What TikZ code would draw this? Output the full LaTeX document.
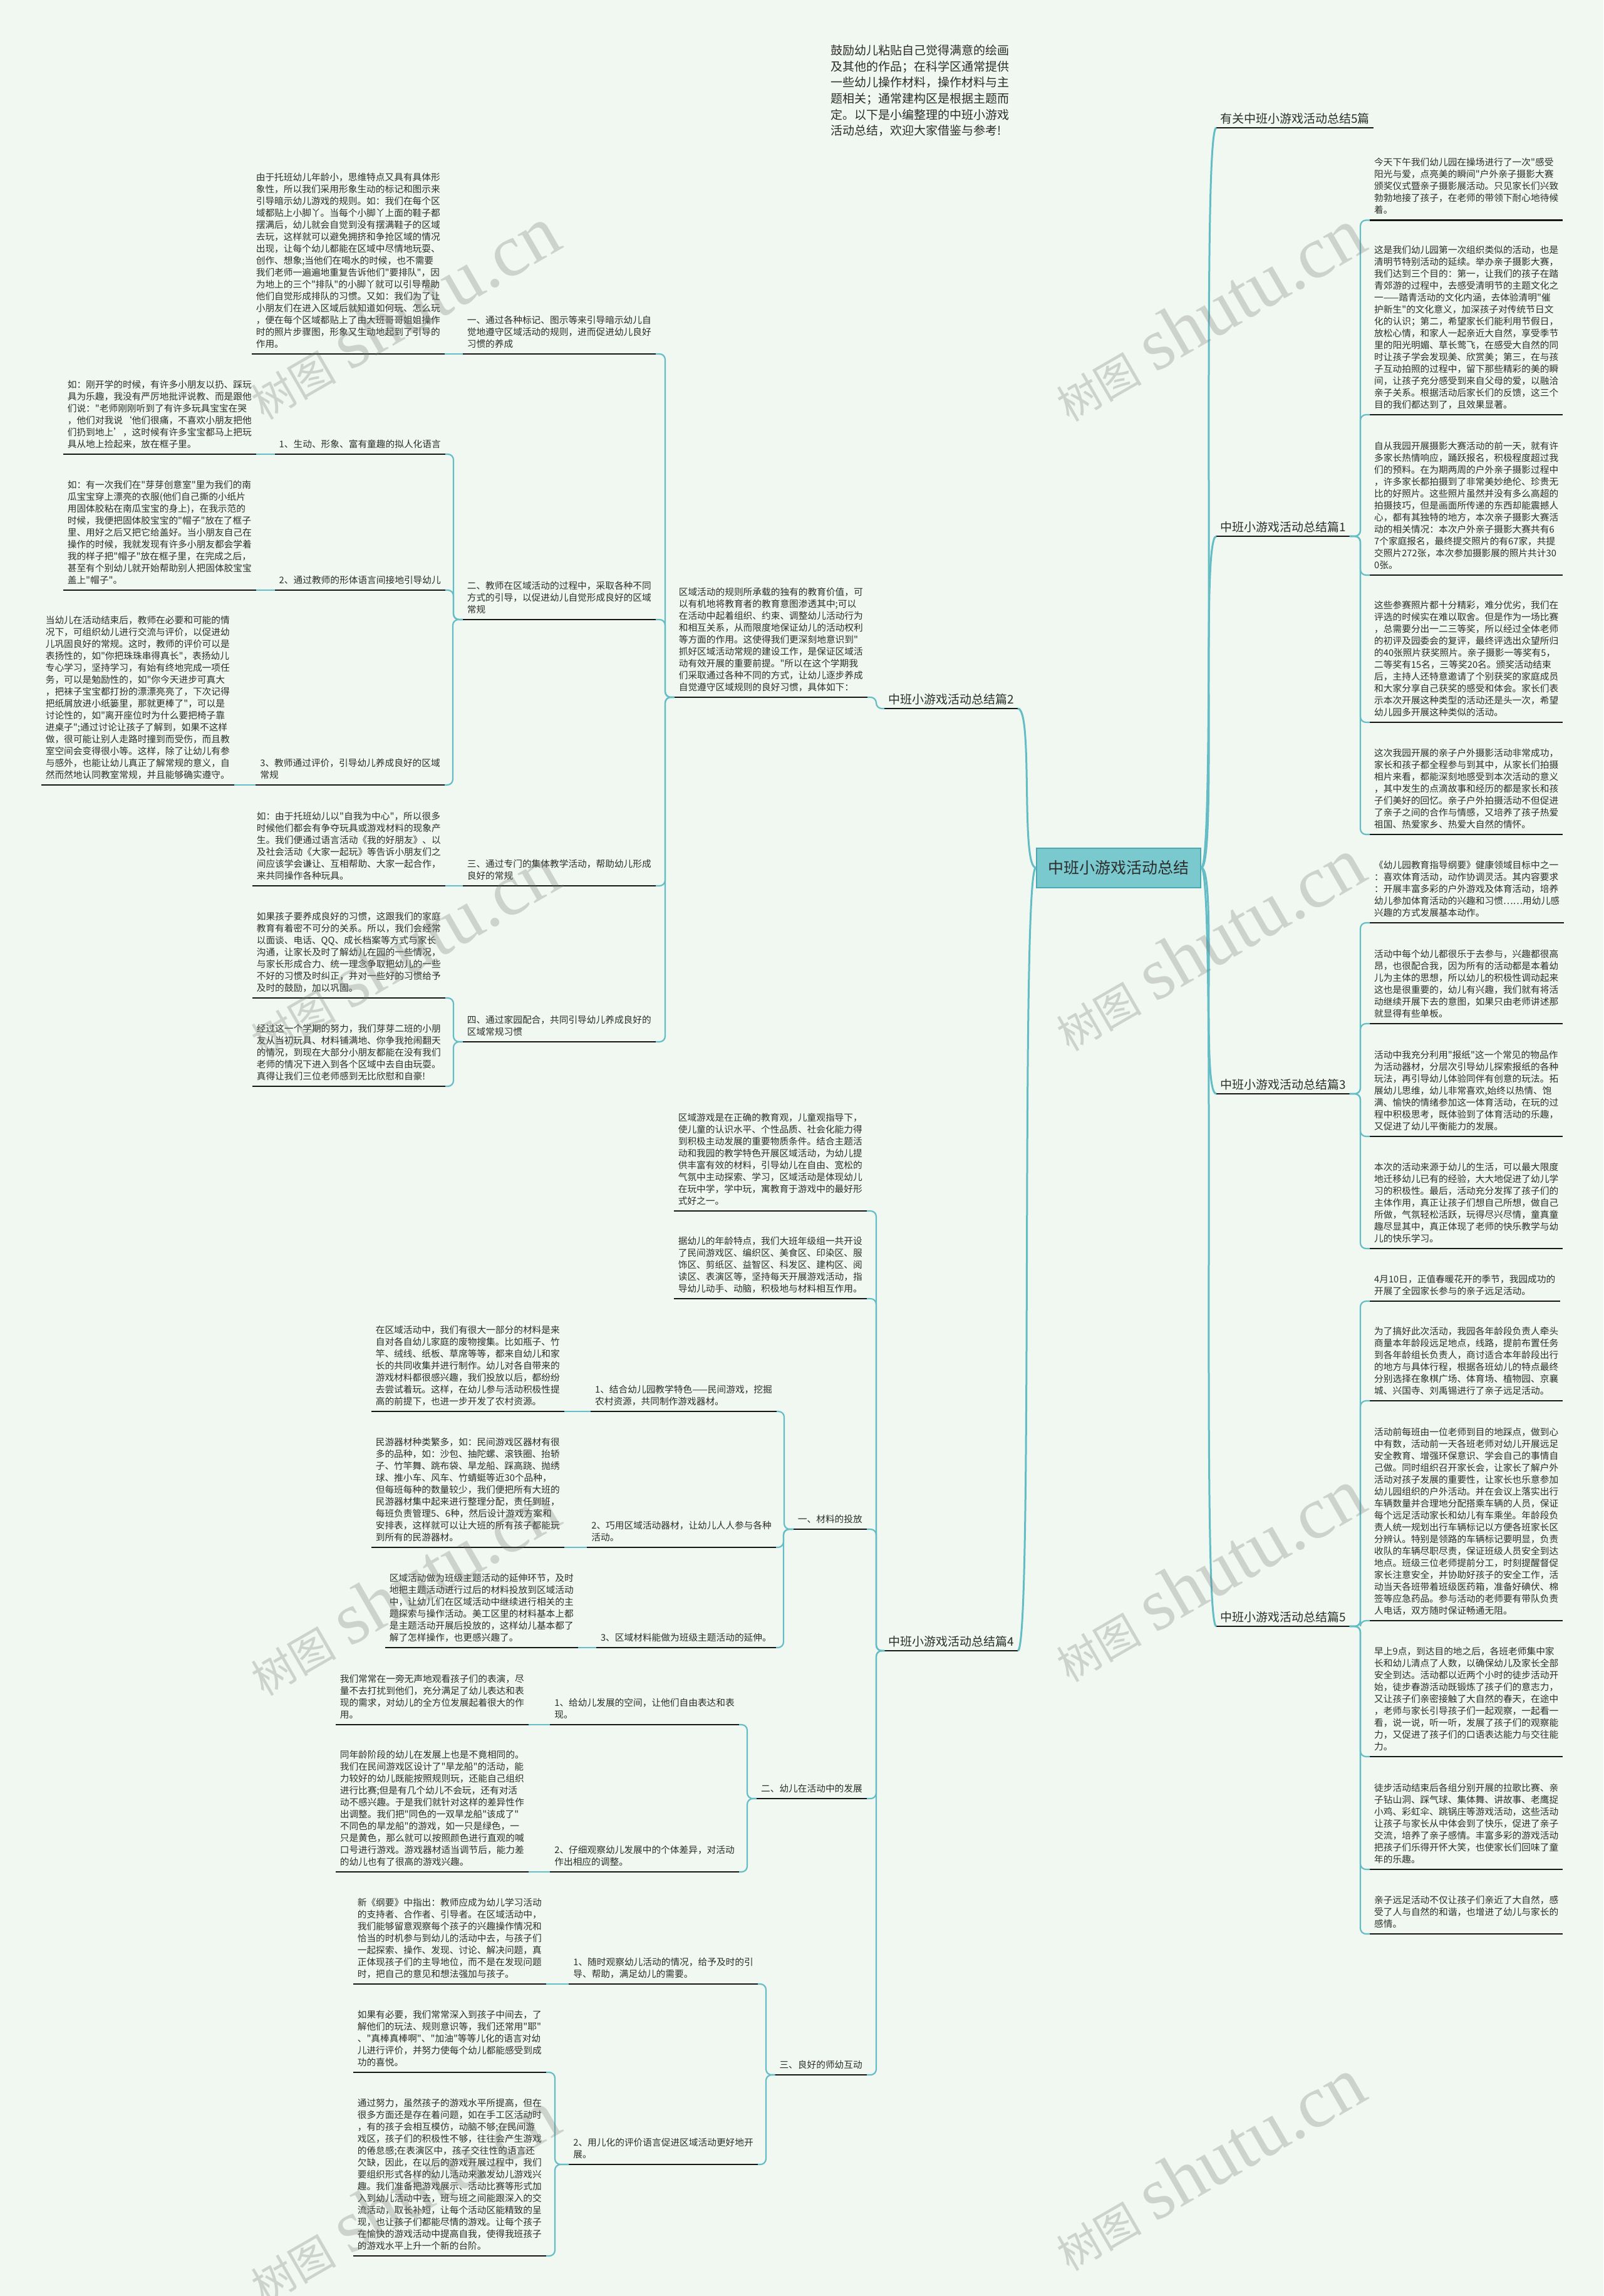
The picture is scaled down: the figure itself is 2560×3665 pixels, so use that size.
\documentclass[tikz,border=0pt]{standalone}
\usepackage{fontspec}
\setmainfont{Noto Sans CJK SC}[Ligatures=TeXOff]
\newfontfamily\wmlatin{Liberation Serif}
\usetikzlibrary{calc}
\definecolor{bgc}{RGB}{240,248,241}
\definecolor{tealc}{RGB}{100,188,197}
\definecolor{rootfill}{RGB}{122,201,207}
\definecolor{rootline}{RGB}{78,168,178}
\definecolor{ink}{RGB}{45,45,45}
\definecolor{ulc}{RGB}{22,22,22}
\tikzset{
  uline/.style={draw=ulc, line width=2.6pt},
  conn/.style={draw=tealc, line width=2.2pt, rounded corners=9pt},
  rconn/.style={draw=tealc, line width=3pt},
  blkbase/.style={font=\fontsize{14.7}{19}\selectfont, align=left, inner xsep=7pt, inner ysep=4.7pt, text=ink, execute at end node=\strut, append after command={(\tikzlastnode.south west) edge[uline] (\tikzlastnode.south east)}},
  lb/.style={blkbase, anchor=south east},
  rb/.style={blkbase, anchor=south west},
  lvbase/.style={font=\fontsize{19}{24}\selectfont, inner xsep=6pt, inner ysep=0.5pt, text=ink, execute at end node=\strut, append after command={(\tikzlastnode.south west) edge[uline] (\tikzlastnode.south east)}},
  lvr/.style={lvbase, anchor=south west},
  lvl/.style={lvbase, anchor=south east},
  rootnode/.style={fill=rootfill, draw=rootline, line width=2pt, minimum width=262pt, minimum height=63pt, inner sep=0pt, font=\fontsize{25}{30}\selectfont, text=ink},
  introtext/.style={font=\fontsize{19}{25.7}\selectfont, align=left, inner sep=0pt, text=ink},
  wm/.style={text=black!55, opacity=0.28, rotate=30, inner sep=0pt},
}
\newcommand\myWm{{\fontsize{68}{68}\selectfont 树图}\hspace{22pt}{\wmlatin\fontsize{118}{118}\selectfont shutu.cn}}
\newcommand\myLconn[3]{\draw[conn] (#1.south west) -| ($(#2.south east)+(#3,0)$) -- (#2.south east);}
\newcommand\myRconn[3]{\draw[conn] (#1.south east) -| ($(#2.south west)+(-#3,0)$) -- (#2.south west);}
\newcommand\myDconn[2]{\draw[conn] (#1.south west) -- (#2.south east);}
\begin{document}
\begin{tikzpicture}[x=1pt,y=-1pt]
\fill[bgc] (0,0) rectangle (2560,3665);
\useasboundingbox (0,0) rectangle (2560,3665);

% ---------- intro text ----------
\node[introtext, anchor=north west] (intro) at (1326,71) {鼓励幼儿粘贴自己觉得满意的绘画\\
及其他的作品；在科学区通常提供\\
一些幼儿操作材料，操作材料与主\\
题相关；通常建构区是根据主题而\\
定。以下是小编整理的中班小游戏\\
活动总结，欢迎大家借鉴与参考!};

% ---------- root ----------
\node[rootnode] (root) at (1786,1385) {中班小游戏活动总结};

% ---------- level 1 ----------
\node[lvr] (h0) at (1942,204) {有关中班小游戏活动总结5篇};
\node[lvr] (h1) at (1942,856) {中班小游戏活动总结篇1};
\node[lvr] (h3) at (1942,1746) {中班小游戏活动总结篇3};
\node[lvr] (h5) at (1942,2596) {中班小游戏活动总结篇5};
\node[lvl] (h2) at (1625,1131) {中班小游戏活动总结篇2};
\node[lvl] (h4) at (1625,2635) {中班小游戏活动总结篇4};

\foreach \h in {h0,h1,h3,h5}
  \draw[rconn] (root.east) .. controls +(25,0) and +(-25,0) .. (\h.south west);
\foreach \h in {h2,h4}
  \draw[rconn] (root.west) .. controls +(-25,0) and +(25,0) .. (\h.south east);

% ---------- 篇1 ----------
\node[rb] (r1) at (2187,351.5) {今天下午我们幼儿园在操场进行了一次"感受\\
阳光与爱，点亮美的瞬间"户外亲子摄影大赛\\
颁奖仪式暨亲子摄影展活动。只见家长们兴致\\
勃勃地接了孩子，在老师的带领下耐心地待候\\
着。};
\node[rb] (r2) at (2187,662) {这是我们幼儿园第一次组织类似的活动，也是\\
清明节特别活动的延续。举办亲子摄影大赛，\\
我们达到三个目的：第一，让我们的孩子在踏\\
青郊游的过程中，去感受清明节的主题文化之\\
一——踏青活动的文化内涵，去体验清明"催\\
护新生"的文化意义，加深孩子对传统节日文\\
化的认识；第二，希望家长们能利用节假日，\\
放松心情，和家人一起亲近大自然，享受季节\\
里的阳光明媚、草长莺飞，在感受大自然的同\\
时让孩子学会发现美、欣赏美；第三，在与孩\\
子互动拍照的过程中，留下那些精彩的美的瞬\\
间，让孩子充分感受到来自父母的爱，以融洽\\
亲子关系。根据活动后家长们的反馈，这三个\\
目的我们都达到了，且效果显著。};
\node[rb] (r3) at (2187,918) {自从我园开展摄影大赛活动的前一天，就有许\\
多家长热情响应，踊跃报名，积极程度超过我\\
们的预料。在为期两周的户外亲子摄影过程中\\
，许多家长都拍摄到了非常美妙绝伦、珍贵无\\
比的好照片。这些照片虽然并没有多么高超的\\
拍摄技巧，但是画面所传递的东西却能震撼人\\
心，都有其独特的地方，本次亲子摄影大赛活\\
动的相关情况：本次户外亲子摄影大赛共有6\\
7个家庭报名，最终提交照片的有67家，共提\\
交照片272张，本次参加摄影展的照片共计30\\
0张。};
\node[rb] (r4) at (2187,1153) {这些参赛照片都十分精彩，难分优劣，我们在\\
评选的时候实在难以取舍。但是作为一场比赛\\
，总需要分出一二三等奖，所以经过全体老师\\
的初评及园委会的复评，最终评选出众望所归\\
的40张照片获奖照片。亲子摄影一等奖有5，\\
二等奖有15名，三等奖20名。颁奖活动结束\\
后，主持人还特意邀请了个别获奖的家庭成员\\
和大家分享自己获奖的感受和体会。家长们表\\
示本次开展这种类型的活动还是头一次，希望\\
幼儿园多开展这种类似的活动。};
\node[rb] (r5) at (2187,1332) {这次我园开展的亲子户外摄影活动非常成功，\\
家长和孩子都全程参与到其中，从家长们拍摄\\
相片来看，都能深刻地感受到本次活动的意义\\
，其中发生的点滴故事和经历的都是家长和孩\\
子们美好的回忆。亲子户外拍摄活动不但促进\\
了亲子之间的合作与情感，又培养了孩子热爱\\
祖国、热爱家乡、热爱大自然的情怀。};
\foreach \c in {r1,r2,r3,r4,r5} { \myRconn{h1}{\c}{15} }

% ---------- 篇3 ----------
\node[rb] (r6) at (2187,1473) {《幼儿园教育指导纲要》健康领域目标中之一\\
：喜欢体育活动，动作协调灵活。其内容要求\\
：开展丰富多彩的户外游戏及体育活动，培养\\
幼儿参加体育活动的兴趣和习惯……用幼儿感\\
兴趣的方式发展基本动作。};
\node[rb] (r7) at (2187,1634) {活动中每个幼儿都很乐于去参与，兴趣都很高\\
昂，也很配合我，因为所有的活动都是本着幼\\
儿为主体的思想，所以幼儿的积极性调动起来\\
这也是很重要的，幼儿有兴趣，我们就有将活\\
动继续开展下去的意图，如果只由老师讲述那\\
就显得有些单板。};
\node[rb] (r8) at (2187,1814) {活动中我充分利用"报纸"这一个常见的物品作\\
为活动器材，分层次引导幼儿探索报纸的各种\\
玩法，再引导幼儿体验同伴有创意的玩法。拓\\
展幼儿思维，幼儿非常喜欢,始终以热情、饱\\
满、愉快的情绪参加这一体育活动，在玩的过\\
程中积极思考，既体验到了体育活动的乐趣，\\
又促进了幼儿平衡能力的发展。};
\node[rb] (r9) at (2187,1993) {本次的活动来源于幼儿的生活，可以最大限度\\
地迁移幼儿已有的经验，大大地促进了幼儿学\\
习的积极性。最后，活动充分发挥了孩子们的\\
主体作用，真正让孩子们想自己所想，做自己\\
所做，气氛轻松活跃，玩得尽兴尽情，童真童\\
趣尽显其中，真正体现了老师的快乐教学与幼\\
儿的快乐学习。};
\foreach \c in {r6,r7,r8,r9} { \myRconn{h3}{\c}{15} }

% ---------- 篇5 ----------
\node[rb] (r10) at (2187,2077) {4月10日，正值春暖花开的季节，我园成功的\\
开展了全园家长参与的亲子远足活动。};
\node[rb] (r11) at (2187,2236) {为了搞好此次活动，我园各年龄段负责人牵头\\
商量本年龄段远足地点，线路，提前布置任务\\
到各年龄组长负责人，商讨适合本年龄段出行\\
的地方与具体行程，根据各班幼儿的特点最终\\
分别选择在象棋广场、体育场、植物园、京襄\\
城、兴国寺、刘禹锡进行了亲子远足活动。};
\node[rb] (r12) at (2187,2587) {活动前每班由一位老师到目的地踩点，做到心\\
中有数，活动前一天各班老师对幼儿开展远足\\
安全教育、增强环保意识、学会自己的事情自\\
己做。同时组织召开家长会，让家长了解户外\\
活动对孩子发展的重要性，让家长也乐意参加\\
幼儿园组织的户外活动。并在会议上落实出行\\
车辆数量并合理地分配搭乘车辆的人员，保证\\
每个远足活动家长和幼儿有车乘坐。年龄段负\\
责人统一规划出行车辆标记以方便各班家长区\\
分辨认。特别是领路的车辆标记要明显，负责\\
收队的车辆尽职尽责，保证班级人员安全到达\\
地点。班级三位老师提前分工，时刻提醒督促\\
家长注意安全，并协助好孩子的安全工作，活\\
动当天各班带着班级医药箱，准备好碘伏、棉\\
签等应急药品。参与活动的老师要有带队负责\\
人电话，双方随时保证畅通无阻。};
\node[rb] (r13) at (2187,2804) {早上9点，到达目的地之后，各班老师集中家\\
长和幼儿清点了人数，以确保幼儿及家长全部\\
安全到达。活动都以近两个小时的徒步活动开\\
始，徒步春游活动既锻炼了孩子们的意志力，\\
又让孩子们亲密接触了大自然的春天，在途中\\
，老师与家长引导孩子们一起观察，一起看一\\
看，说一说，听一听，发展了孩子们的观察能\\
力，又促进了孩子们的口语表达能力与交往能\\
力。};
\node[rb] (r14) at (2187,2984) {徒步活动结束后各组分别开展的拉歌比赛、亲\\
子钻山洞、踩气球、集体舞、讲故事、老鹰捉\\
小鸡、彩虹伞、跳锅庄等游戏活动，这些活动\\
让孩子与家长从中体会到了快乐，促进了亲子\\
交流，培养了亲子感情。丰富多彩的游戏活动\\
把孩子们乐得开怀大笑，也使家长们回味了童\\
年的乐趣。};
\node[rb] (r15) at (2187,3087) {亲子远足活动不仅让孩子们亲近了大自然，感\\
受了人与自然的和谐，也增进了幼儿与家长的\\
感情。};
\foreach \c in {r10,r11,r12,r13,r14,r15} { \myRconn{h5}{\c}{15} }

% ---------- 篇2 ----------
\node[lb] (p2i) at (1385,1113) {区域活动的规则所承载的独有的教育价值，可\\
以有机地将教育者的教育意图渗透其中;可以\\
在活动中起着组织、约束、调整幼儿活动行为\\
和相互关系，从而限度地保证幼儿的活动权利\\
等方面的作用。这使得我们更深刻地意识到"\\
抓好区域活动常规的建设工作，是保证区域活\\
动有效开展的重要前提。"所以在这个学期我\\
们采取通过各种不同的方式，让幼儿逐步养成\\
自觉遵守区域规则的良好习惯，具体如下：};
\myLconn{h2}{p2i}{14}

\node[lb] (p2a) at (1047,565) {一、通过各种标记、图示等来引导暗示幼儿自\\
觉地遵守区域活动的规则，进而促进幼儿良好\\
习惯的养成};
\node[lb] (p2b) at (1047,989) {二、教师在区域活动的过程中，采取各种不同\\
方式的引导，以促进幼儿自觉形成良好的区域\\
常规};
\node[lb] (p2c) at (1047,1414) {三、通过专门的集体教学活动，帮助幼儿形成\\
良好的常规};
\node[lb] (p2d) at (1047,1663) {四、通过家园配合，共同引导幼儿养成良好的\\
区域常规习惯};
\foreach \c in {p2a,p2b,p2c,p2d} { \myLconn{p2i}{\c}{15} }

\node[lb] (p2a1) at (710,565) {由于托班幼儿年龄小，思维特点又具有具体形\\
象性，所以我们采用形象生动的标记和图示来\\
引导暗示幼儿游戏的规则。如：我们在每个区\\
域都贴上小脚丫。当每个小脚丫上面的鞋子都\\
摆满后，幼儿就会自觉到没有摆满鞋子的区域\\
去玩，这样就可以避免拥挤和争抢区域的情况\\
出现，让每个幼儿都能在区域中尽情地玩耍、\\
创作、想象;当他们在喝水的时候，也不需要\\
我们老师一遍遍地重复告诉他们"要排队"，因\\
为地上的三个"排队"的小脚丫就可以引导帮助\\
他们自觉形成排队的习惯。又如：我们为了让\\
小朋友们在进入区域后就知道如何玩、怎么玩\\
，便在每个区域都贴上了由大班哥哥姐姐操作\\
时的照片步骤图，形象又生动地起到了引导的\\
作用。};
\myDconn{p2a}{p2a1}

\node[lb] (p2b1) at (711,725) {1、生动、形象、富有童趣的拟人化语言};
\node[lb] (p2b2) at (711,942) {2、通过教师的形体语言间接地引导幼儿};
\node[lb] (p2b3) at (710,1253) {3、教师通过评价，引导幼儿养成良好的区域\\
常规};
\foreach \c in {p2b1,p2b2,p2b3} { \myLconn{p2b}{\c}{13} }

\node[lb] (p2b1t) at (409,725) {如：刚开学的时候，有许多小朋友以扔、踩玩\\
具为乐趣，我没有严厉地批评说教、而是跟他\\
们说："老师刚刚听到了有许多玩具宝宝在哭\\
，他们对我说‘他们很痛，不喜欢小朋友把他\\
们扔到地上’，这时候有许多宝宝都马上把玩\\
具从地上捡起来，放在框子里。};
\node[lb] (p2b2t) at (409,942) {如：有一次我们在"芽芽创意室"里为我们的南\\
瓜宝宝穿上漂亮的衣服(他们自己撕的小纸片\\
用固体胶粘在南瓜宝宝的身上)，在我示范的\\
时候，我便把固体胶宝宝的"帽子"放在了框子\\
里、用好之后又把它给盖好。当小朋友自己在\\
操作的时候，我就发现有许多小朋友都会学着\\
我的样子把"帽子"放在框子里，在完成之后，\\
甚至有个别幼儿就开始帮助别人把固体胶宝宝\\
盖上"帽子"。};
\node[lb] (p2b3t) at (374,1253) {当幼儿在活动结束后，教师在必要和可能的情\\
况下，可组织幼儿进行交流与评价，以促进幼\\
儿巩固良好的常规。这时，教师的评价可以是\\
表扬性的，如"你把珠珠串得真长"，表扬幼儿\\
专心学习，坚持学习，有始有终地完成一项任\\
务，可以是勉励性的，如"你今天进步可真大\\
，把袜子宝宝都打扮的漂漂亮亮了，下次记得\\
把纸屑放进小纸篓里，那就更棒了"，可以是\\
讨论性的，如"离开座位时为什么要把椅子靠\\
进桌子";通过讨论让孩子了解到，如果不这样\\
做，很可能让别人走路时撞到而受伤，而且教\\
室空间会变得很小等。这样，除了让幼儿有参\\
与感外，也能让幼儿真正了解常规的意义，自\\
然而然地认同教室常规，并且能够确实遵守。};
\myDconn{p2b1}{p2b1t}
\myDconn{p2b2}{p2b2t}
\myDconn{p2b3}{p2b3t}

\node[lb] (p2c1) at (711,1414) {如：由于托班幼儿以"自我为中心"，所以很多\\
时候他们都会有争夺玩具或游戏材料的现象产\\
生。我们便通过语言活动《我的好朋友》、以\\
及社会活动《大家一起玩》等告诉小朋友们之\\
间应该学会谦让、互相帮助、大家一起合作，\\
来共同操作各种玩具。};
\myDconn{p2c}{p2c1}

\node[lb] (p2d1) at (711,1593) {如果孩子要养成良好的习惯，这跟我们的家庭\\
教育有着密不可分的关系。所以，我们会经常\\
以面谈、电话、QQ、成长档案等方式与家长\\
沟通，让家长及时了解幼儿在园的一些情况，\\
与家长形成合力、统一理念争取把幼儿的一些\\
不好的习惯及时纠正，并对一些好的习惯给予\\
及时的鼓励，加以巩固。};
\node[lb] (p2d2) at (711,1734) {经过这一个学期的努力，我们芽芽二班的小朋\\
友从当初玩具、材料铺满地、你争我抢闹翻天\\
的情况，到现在大部分小朋友都能在没有我们\\
老师的情况下进入到各个区域中去自由玩耍。\\
真得让我们三位老师感到无比欣慰和自豪!};
\foreach \c in {p2d1,p2d2} { \myLconn{p2d}{\c}{13} }

% ---------- 篇4 ----------
\node[lb] (p4i1) at (1384,1933) {区域游戏是在正确的教育观，儿童观指导下，\\
使儿童的认识水平、个性品质、社会化能力得\\
到积极主动发展的重要物质条件。结合主题活\\
动和我园的教学特色开展区域活动，为幼儿提\\
供丰富有效的材料，引导幼儿在自由、宽松的\\
气氛中主动探索、学习，区域活动是体现幼儿\\
在玩中学，学中玩，寓教育于游戏中的最好形\\
式好之一。};
\node[lb] (p4i2) at (1384,2073) {据幼儿的年龄特点，我们大班年级组一共开设\\
了民间游戏区、编织区、美食区、印染区、服\\
饰区、剪纸区、益智区、科发区、建构区、阅\\
读区、表演区等，坚持每天开展游戏活动，指\\
导幼儿动手、动脑，积极地与材料相互作用。};
\node[lb] (p4a) at (1384,2441) {一、材料的投放};
\node[lb] (p4b) at (1384,2871) {二、幼儿在活动中的发展};
\node[lb] (p4c) at (1384,3312) {三、良好的师幼互动};
\foreach \c in {p4i1,p4i2,p4a,p4b,p4c} { \myLconn{h4}{\c}{15} }

\node[lb] (p4a1) at (1240,2253) {1、结合幼儿园教学特色——民间游戏，挖掘\\
农村资源，共同制作游戏器材。};
\node[lb] (p4a2) at (1239,2470) {2、巧用区域活动器材，让幼儿人人参与各种\\
活动。};
\node[lb] (p4a3) at (1239,2630) {3、区域材料能做为班级主题活动的延伸。};
\foreach \c in {p4a1,p4a2,p4a3} { \myLconn{p4a}{\c}{12} }

\node[lb] (p4a1t) at (901,2253) {在区域活动中，我们有很大一部分的材料是来\\
自对各自幼儿家庭的废物搜集。比如瓶子、竹\\
竿、绒线、纸板、草席等等，都来自幼儿和家\\
长的共同收集并进行制作。幼儿对各自带来的\\
游戏材料都很感兴趣，我们投放以后，都纷纷\\
去尝试着玩。这样，在幼儿参与活动积极性提\\
高的前提下，也进一步开发了农村资源。};
\node[lb] (p4a2t) at (901,2470) {民游器材种类繁多，如：民间游戏区器材有很\\
多的品种，如：沙包、抽陀螺、滚铁圈、抬轿\\
子、竹竿舞、跳布袋、旱龙船、踩高跷、抛绣\\
球、推小车、风车、竹蜻蜓等近30个品种，\\
但每班每种的数量较少，我们便把所有大班的\\
民游器材集中起来进行整理分配，责任到班，\\
每班负责管理5、6种，然后设计游戏方案和\\
安排表，这样就可以让大班的所有孩子都能玩\\
到所有的民游器材。};
\node[lb] (p4a3t) at (923,2630) {区域活动做为班级主题活动的延伸环节，及时\\
地把主题活动进行过后的材料投放到区域活动\\
中，让幼儿们在区域活动中继续进行相关的主\\
题探索与操作活动。美工区里的材料基本上都\\
是主题活动开展后投放的，这样幼儿基本都了\\
解了怎样操作，也更感兴趣了。};
\myDconn{p4a1}{p4a1t}
\myDconn{p4a2}{p4a2t}
\myDconn{p4a3}{p4a3t}

\node[lb] (p4b1) at (1180,2753) {1、给幼儿发展的空间，让他们自由表达和表\\
现。};
\node[lb] (p4b2) at (1180,2988) {2、仔细观察幼儿发展中的个体差异，对活动\\
作出相应的调整。};
\foreach \c in {p4b1,p4b2} { \myLconn{p4b}{\c}{13} }

\node[lb] (p4b1t) at (844,2753) {我们常常在一旁无声地观看孩子们的表演，尽\\
量不去打扰到他们，充分满足了幼儿表达和表\\
现的需求，对幼儿的全方位发展起着很大的作\\
用。};
\node[lb] (p4b2t) at (844,2988) {同年龄阶段的幼儿在发展上也是不竟相同的。\\
我们在民间游戏区设计了"旱龙船"的活动，能\\
力较好的幼儿既能按照规则玩，还能自己组织\\
进行比赛;但是有几个幼儿不会玩，还有对活\\
动不感兴趣。于是我们就针对这样的差异性作\\
出调整。我们把"同色的一双旱龙船"该成了"\\
不同色的旱龙船"的游戏，如一只是绿色，一\\
只是黄色，那么就可以按照颜色进行直观的喊\\
口号进行游戏。游戏器材适当调节后，能力差\\
的幼儿也有了很高的游戏兴趣。};
\myDconn{p4b1}{p4b1t}
\myDconn{p4b2}{p4b2t}

\node[lb] (p4c1) at (1210,3167) {1、随时观察幼儿活动的情况，给予及时的引\\
导、帮助，满足幼儿的需要。};
\node[lb] (p4c2) at (1210,3455) {2、用儿化的评价语言促进区域活动更好地开\\
展。};
\foreach \c in {p4c1,p4c2} { \myLconn{p4c}{\c}{13} }

\node[lb] (p4c1t) at (872,3167) {新《纲要》中指出：教师应成为幼儿学习活动\\
的支持者、合作者、引导者。在区域活动中，\\
我们能够留意观察每个孩子的兴趣操作情况和\\
恰当的时机参与到幼儿的活动中去，与孩子们\\
一起探索、操作、发现、讨论、解决问题，真\\
正体现孩子们的主导地位，而不是在发现问题\\
时，把自己的意见和想法强加与孩子。};
\myDconn{p4c1}{p4c1t}

\node[lb] (p4c2a) at (872,3308) {如果有必要，我们常常深入到孩子中间去，了\\
解他们的玩法、规则意识等，我们还常用"耶"\\
、"真棒真棒啊"、"加油"等等儿化的语言对幼\\
儿进行评价，并努力使每个幼儿都能感受到成\\
功的喜悦。};
\node[lb] (p4c2b) at (872,3601) {通过努力，虽然孩子的游戏水平所提高，但在\\
很多方面还是存在着问题，如在手工区活动时\\
，有的孩子会相互模仿，动脑不够;在民间游\\
戏区，孩子们的积极性不够，往往会产生游戏\\
的倦怠感;在表演区中，孩子交往性的语言还\\
欠缺，因此，在以后的游戏开展过程中，我们\\
要组织形式各样的幼儿活动来激发幼儿游戏兴\\
趣。我们准备把游戏展示、活动比赛等形式加\\
入到幼儿活动中去，班与班之间能跟深入的交\\
流活动，取长补短，让每个活动区能精致的呈\\
现，也让孩子们都能尽情的游戏。让每个孩子\\
在愉快的游戏活动中提高自我，使得我班孩子\\
的游戏水平上升一个新的台阶。};
\foreach \c in {p4c2a,p4c2b} { \myLconn{p4c2}{\c}{14} }

% ---------- watermarks ----------
\node[wm] (w1) at (643,500) {\myWm};
\node[wm] (w2) at (1929,503) {\myWm};
\node[wm] (w3) at (643,1520) {\myWm};
\node[wm] (w4) at (1929,1508) {\myWm};
\node[wm] (w5) at (643,2537) {\myWm};
\node[wm] (w6) at (1929,2515) {\myWm};
\node[wm] (w7) at (643,3507) {\myWm};
\node[wm] (w8) at (1929,3455) {\myWm};
\end{tikzpicture}
\end{document}
